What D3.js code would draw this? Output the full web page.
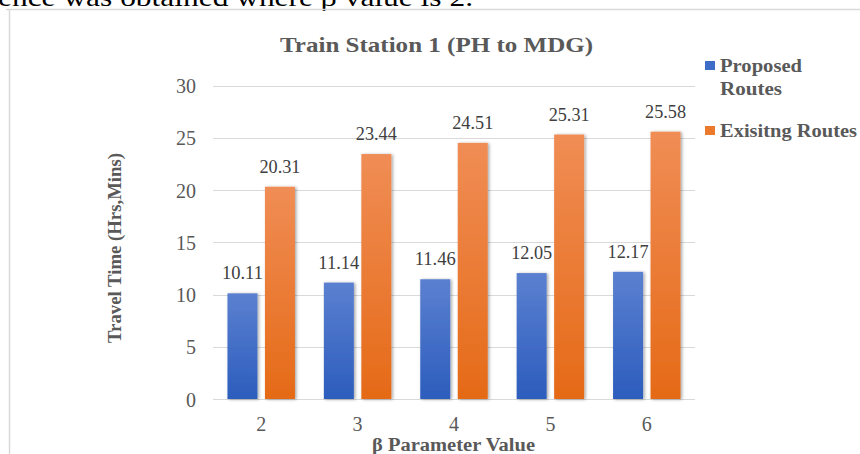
<!DOCTYPE html>
<html>
<head>
<meta charset="utf-8">
<script src="https://cdn.jsdelivr.net/npm/d3@7"></script>
<style>
  html, body { margin: 0; padding: 0; background: #fff; }
  svg { display: block; }
  text { font-family: "Liberation Serif", "Times New Roman", serif; }
</style>
</head>
<body>
<svg id="chart" width="860" height="454"></svg>
<script>
// ---- data ----
const categories = ["2", "3", "4", "5", "6"];
const seriesNames = ["Proposed Routes", "Exisitng Routes"];
const proposed = [10.11, 11.14, 11.46, 12.05, 12.17];
const existing = [20.31, 23.44, 24.51, 25.31, 25.58];
const yTicks = [0, 5, 10, 15, 20, 25, 30];
const chartTitle = "Train Station 1 (PH to MDG)";
const xTitle = "β Parameter Value";
const yTitle = "Travel Time (Hrs,Mins)";
const topText = "ence was obtained where β value is 2.";

const svg = d3.select("#chart");
const W = 860, H = 454;
const plot = { left: 213, right: 695, top: 85.5, bottom: 399 };
const grey = "#595959";

// defs: gradients and shadow
const defs = svg.append("defs");
function grad(id, top, bottom) {
  const g = defs.append("linearGradient").attr("id", id)
    .attr("x1", 0).attr("y1", 0).attr("x2", 0).attr("y2", 1);
  g.append("stop").attr("offset", "0%").attr("stop-color", top);
  g.append("stop").attr("offset", "100%").attr("stop-color", bottom);
}
grad("gBlue", "#5b80d0", "#2c5dbd");
grad("gOrange", "#f08d55", "#e56a17");
const f = defs.append("filter").attr("id", "shadow")
  .attr("x", "-30%").attr("y", "-10%").attr("width", "160%").attr("height", "120%");
f.append("feDropShadow").attr("dx", 1.5).attr("dy", 0.5).attr("stdDeviation", 1.5)
  .attr("flood-color", "#000").attr("flood-opacity", 0.35);

// background text above chart frame
svg.append("text").attr("x", -2).attr("y", 6)
  .attr("font-size", 26).attr("fill", "#000")
  .attr("textLength", 475).attr("lengthAdjust", "spacingAndGlyphs")
  .text(topText);

// chart frame
svg.append("line").attr("x1", 6).attr("x2", W).attr("y1", 9.5).attr("y2", 9.5)
  .attr("stroke", "#d9d9d9").attr("stroke-width", 1.5);
svg.append("line").attr("x1", 9.5).attr("x2", 9.5).attr("y1", 9.5).attr("y2", H)
  .attr("stroke", "#d9d9d9").attr("stroke-width", 1.5);

// scales
const x = d3.scaleBand().domain(categories).range([plot.left, plot.right])
  .paddingInner(0.3).paddingOuter(0.15);
const xs = d3.scaleBand().domain(seriesNames).range([0, x.bandwidth()])
  .paddingInner(0.2).paddingOuter(0);
const y = d3.scaleLinear().domain([0, 30]).range([plot.bottom, plot.top]);

// gridlines
svg.append("g").selectAll("line").data(yTicks).join("line")
  .attr("x1", plot.left).attr("x2", plot.right)
  .attr("y1", d => Math.round(y(d)) + 0.5).attr("y2", d => Math.round(y(d)) + 0.5)
  .attr("stroke", "#d9d9d9").attr("stroke-width", 1);

// y axis labels
const yAxis = d3.axisLeft(y).tickValues(yTicks).tickSize(0).tickPadding(0);
const gy = svg.append("g").attr("transform", `translate(196,0)`).call(yAxis);
gy.select(".domain").remove();
gy.selectAll("text").attr("font-family", "Liberation Serif").attr("font-size", 20)
  .attr("fill", grey).attr("dy", "0.35em");

// x axis labels
const xAxis = d3.axisBottom(x).tickSize(0).tickPadding(0);
const gx = svg.append("g").attr("transform", `translate(0,${plot.bottom})`).call(xAxis);
gx.select(".domain").remove();
gx.selectAll("text").attr("font-family", "Liberation Serif").attr("font-size", 20)
  .attr("fill", grey).attr("dy", null).attr("y", 32);

// bars
const rows = categories.map((c, i) => ({ cat: c, vals: [proposed[i], existing[i]] }));
const fills = ["url(#gBlue)", "url(#gOrange)"];
const groups = svg.append("g").selectAll("g").data(rows).join("g")
  .attr("transform", d => `translate(${x(d.cat)},0)`);
groups.selectAll("rect").data(d => d.vals.map((v, k) => ({ v, k }))).join("rect")
  .attr("x", d => xs(seriesNames[d.k]))
  .attr("width", xs.bandwidth())
  .attr("y", d => y(d.v))
  .attr("height", d => y(0) - y(d.v))
  .attr("fill", d => fills[d.k])
  .attr("filter", "url(#shadow)");
groups.selectAll("text").data(d => d.vals.map((v, k) => ({ v, k }))).join("text")
  .attr("x", d => xs(seriesNames[d.k]) + xs.bandwidth() / 2)
  .attr("y", d => y(d.v) - 14)
  .attr("text-anchor", "middle")
  .attr("font-size", 19).attr("fill", "#404040")
  .attr("textLength", 41).attr("lengthAdjust", "spacingAndGlyphs")
  .text(d => d3.format(".2f")(d.v));

// title
svg.append("text").attr("x", 280).attr("y", 52)
  .attr("font-size", 22).attr("font-weight", "bold").attr("fill", grey)
  .attr("textLength", 313).attr("lengthAdjust", "spacingAndGlyphs")
  .text(chartTitle);

// axis titles
svg.append("text").attr("x", 372).attr("y", 451)
  .attr("font-size", 18).attr("font-weight", "bold").attr("fill", grey)
  .attr("textLength", 163).attr("lengthAdjust", "spacingAndGlyphs")
  .text(xTitle);
svg.append("text").attr("transform", "translate(121,343) rotate(-90)")
  .attr("font-size", 18).attr("font-weight", "bold").attr("fill", grey)
  .attr("textLength", 190).attr("lengthAdjust", "spacingAndGlyphs")
  .text(yTitle);

// legend
const legColors = ["#4472c4", "#ed7d31"];
const leg = svg.append("g");
leg.append("rect").attr("x", 705).attr("y", 61).attr("width", 10).attr("height", 9).attr("fill", "#3f6cc6");
leg.append("rect").attr("x", 705).attr("y", 126).attr("width", 10).attr("height", 9).attr("fill", "#ec7a2c");
const legLines = [
  { t: seriesNames[0].split(" ")[0], y: 72, w: 82 },
  { t: seriesNames[0].split(" ")[1], y: 95, w: 62 },
  { t: seriesNames[1], y: 137, w: 137 }
];
leg.selectAll("text.l").data(legLines).join("text").attr("class", "l")
  .attr("x", 720).attr("y", d => d.y)
  .attr("font-size", 18).attr("font-weight", "bold").attr("fill", grey)
  .attr("textLength", d => d.w).attr("lengthAdjust", "spacingAndGlyphs")
  .text(d => d.t);
</script>
</body>
</html>
